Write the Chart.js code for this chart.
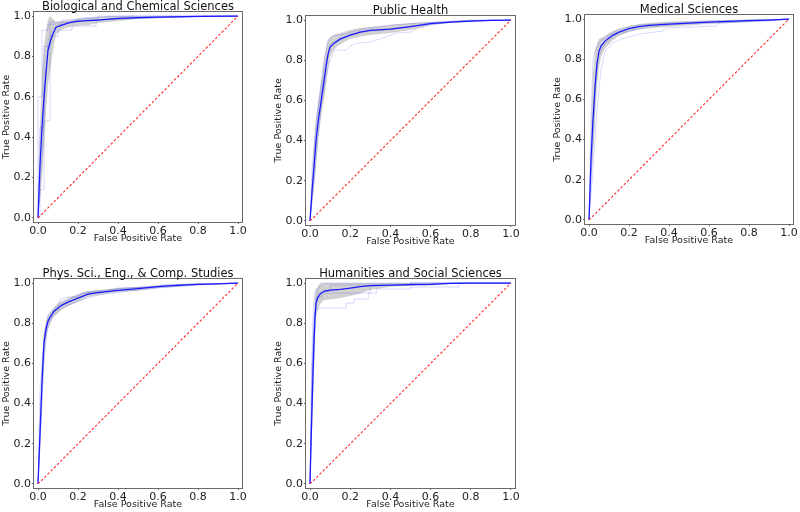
<!DOCTYPE html>
<html><head><meta charset="utf-8">
<script src="https://cdn.jsdelivr.net/npm/chart.js@4.4.1/dist/chart.umd.min.js"></script>
<style>
html,body{margin:0;padding:0;background:#fff;width:800px;height:512px;overflow:hidden;position:relative}
canvas{position:absolute}
</style></head><body>
<canvas id="c1"></canvas><canvas id="c2"></canvas><canvas id="c3"></canvas><canvas id="c4"></canvas><canvas id="c5"></canvas>
<script>
// ---------- data ----------
const tickValues = [0.0, 0.2, 0.4, 0.6, 0.8, 1.0];
const panelTitles = ["Biological and Chemical Sciences", "Public Health", "Medical Sciences",
                     "Phys. Sci., Eng., & Comp. Studies", "Humanities and Social Sciences"];
const xLabel = "False Positive Rate";
const yLabel = "True Positive Rate";
const chanceX = [0, 1];
const chanceY = [0, 1];

// Biological and Chemical Sciences
const fpr1   = [0, 0.01, 0.02, 0.03, 0.04, 0.05, 0.06, 0.07, 0.09, 0.12, 0.15, 0.19, 0.25, 0.3, 0.4, 0.5, 0.6, 0.8, 1.0];
const mean1  = [0, 0.26, 0.45, 0.60, 0.72, 0.83, 0.87, 0.90, 0.945, 0.955, 0.965, 0.973, 0.977, 0.98, 0.988, 0.992, 0.995, 0.998, 1.0];
const upper1 = [0, 0.45, 0.72, 0.85, 0.93, 0.98, 1.0, 0.99, 0.97, 0.975, 0.978, 0.985, 0.99, 0.995, 1.0, 1.0, 1.0, 1.0, 1.0];
const lower1 = [0, 0.08, 0.2, 0.36, 0.52, 0.66, 0.72, 0.8, 0.91, 0.935, 0.945, 0.952, 0.955, 0.965, 0.976, 0.985, 0.99, 0.996, 1.0];
const folds1 = [
  [[0,0],[0.01,0],[0.01,0.14],[0.03,0.14],[0.03,0.48],[0.06,0.48],[0.06,0.85],[0.07,0.9],[0.1,0.9],[0.1,0.93],[0.17,0.93],[0.17,0.95],[0.29,0.95],[0.29,0.98],[0.5,0.99],[1,1]],
  [[0,0],[0,0.6],[0.02,0.6],[0.02,0.93],[0.05,0.93],[0.05,0.96],[0.12,0.96],[0.12,0.98],[0.3,0.99],[0.3,1],[1,1]],
  [[0,0],[0.01,0.45],[0.03,0.45],[0.03,0.85],[0.06,0.85],[0.06,0.97],[0.2,0.97],[0.2,0.99],[0.4,1],[1,1]],
  [[0,0],[0.02,0.3],[0.04,0.7],[0.05,0.88],[0.08,0.94],[0.15,0.97],[0.25,0.98],[0.87,1],[1,1]]
];

// Public Health
const fpr2   = [0, 0.01, 0.02, 0.03, 0.04, 0.05, 0.06, 0.07, 0.08, 0.09, 0.10, 0.12, 0.15, 0.2, 0.25, 0.3, 0.4, 0.5, 0.6, 0.7, 0.8, 0.9, 1.0];
const mean2  = [0, 0.15, 0.27, 0.4, 0.49, 0.56, 0.63, 0.7, 0.77, 0.83, 0.865, 0.885, 0.905, 0.925, 0.94, 0.948, 0.955, 0.967, 0.982, 0.99, 0.995, 0.998, 1.0];
const upper2 = [0, 0.22, 0.38, 0.5, 0.58, 0.65, 0.72, 0.8, 0.86, 0.9, 0.915, 0.925, 0.935, 0.95, 0.96, 0.965, 0.975, 0.985, 0.99, 0.995, 1.0, 1.0, 1.0];
const lower2 = [0, 0.08, 0.16, 0.28, 0.4, 0.48, 0.55, 0.61, 0.68, 0.76, 0.82, 0.855, 0.88, 0.905, 0.918, 0.925, 0.935, 0.95, 0.975, 0.985, 0.99, 0.996, 1.0];
const folds2 = [
  [[0,0],[0.02,0.2],[0.04,0.42],[0.06,0.6],[0.08,0.72],[0.1,0.8],[0.12,0.85],[0.18,0.85],[0.2,0.87],[0.23,0.885],[0.3,0.89],[0.36,0.91],[0.43,0.935],[0.5,0.94],[0.55,0.965],[0.65,0.985],[0.8,0.995],[1,1]],
  [[0,0],[0.01,0.25],[0.03,0.5],[0.05,0.65],[0.07,0.8],[0.09,0.9],[0.12,0.925],[0.18,0.93],[0.22,0.945],[0.3,0.96],[0.4,0.975],[0.55,0.985],[0.65,0.99],[0.8,1],[1,1]],
  [[0,0],[0.02,0.3],[0.04,0.55],[0.06,0.68],[0.08,0.8],[0.1,0.88],[0.15,0.91],[0.25,0.94],[0.35,0.95],[0.45,0.96],[0.6,0.985],[0.8,0.998],[1,1]]
];

// Medical Sciences
const fpr3   = [0, 0.01, 0.02, 0.03, 0.04, 0.05, 0.06, 0.08, 0.1, 0.12, 0.15, 0.2, 0.25, 0.3, 0.4, 0.5, 0.6, 0.7, 0.8, 0.9, 1.0];
const mean3  = [0, 0.3, 0.5, 0.66, 0.78, 0.84, 0.865, 0.89, 0.905, 0.92, 0.935, 0.952, 0.962, 0.968, 0.975, 0.98, 0.985, 0.988, 0.992, 0.995, 1.0];
const upper3 = [0, 0.45, 0.72, 0.84, 0.88, 0.9, 0.905, 0.915, 0.93, 0.94, 0.95, 0.965, 0.975, 0.98, 0.988, 0.99, 0.993, 0.995, 0.997, 0.999, 1.0];
const lower3 = [0, 0.18, 0.32, 0.5, 0.66, 0.76, 0.81, 0.855, 0.875, 0.895, 0.915, 0.935, 0.948, 0.955, 0.962, 0.968, 0.975, 0.98, 0.987, 0.992, 1.0];
const folds3 = [
  [[0,0],[0.02,0.25],[0.04,0.55],[0.06,0.75],[0.08,0.84],[0.12,0.88],[0.16,0.9],[0.25,0.925],[0.37,0.94],[0.38,0.955],[0.5,0.96],[0.64,0.965],[0.65,0.98],[0.9,0.99],[1,1]],
  [[0,0],[0.01,0.5],[0.02,0.8],[0.03,0.84],[0.05,0.88],[0.07,0.9],[0.1,0.92],[0.15,0.95],[0.25,0.97],[0.4,0.98],[0.6,0.99],[0.8,0.995],[1,1]],
  [[0,0],[0.02,0.4],[0.035,0.7],[0.05,0.82],[0.08,0.88],[0.13,0.92],[0.2,0.94],[0.3,0.96],[0.45,0.975],[0.7,0.985],[1,1]]
];

// Phys. Sci., Eng., & Comp. Studies
const fpr4   = [0, 0.01, 0.02, 0.03, 0.04, 0.05, 0.06, 0.08, 0.1, 0.12, 0.15, 0.2, 0.25, 0.3, 0.4, 0.5, 0.6, 0.7, 0.8, 0.9, 1.0];
const mean4  = [0, 0.25, 0.5, 0.7, 0.77, 0.81, 0.83, 0.86, 0.875, 0.89, 0.905, 0.925, 0.945, 0.952, 0.963, 0.972, 0.982, 0.988, 0.993, 0.996, 1.0];
const upper4 = [0, 0.35, 0.6, 0.76, 0.81, 0.84, 0.855, 0.88, 0.9, 0.91, 0.925, 0.945, 0.96, 0.965, 0.975, 0.982, 0.99, 0.995, 0.997, 0.998, 1.0];
const lower4 = [0, 0.15, 0.4, 0.62, 0.72, 0.77, 0.8, 0.835, 0.85, 0.87, 0.885, 0.905, 0.93, 0.94, 0.955, 0.962, 0.975, 0.982, 0.99, 0.995, 1.0];
const folds4 = [
  [[0,0],[0.01,0.45],[0.02,0.6],[0.03,0.72],[0.05,0.8],[0.08,0.85],[0.1,0.88],[0.11,0.92],[0.15,0.93],[0.2,0.93],[0.22,0.95],[0.35,0.96],[0.4,0.975],[0.6,0.98],[0.62,0.99],[1,1]],
  [[0,0],[0.015,0.3],[0.03,0.6],[0.045,0.76],[0.07,0.83],[0.1,0.86],[0.15,0.89],[0.2,0.91],[0.3,0.94],[0.45,0.96],[0.6,0.975],[0.8,0.99],[1,1]],
  [[0,0],[0.02,0.55],[0.03,0.74],[0.05,0.84],[0.08,0.87],[0.12,0.9],[0.18,0.93],[0.25,0.955],[0.4,0.97],[0.55,0.98],[0.75,0.995],[1,1]]
];

// Humanities and Social Sciences
const fpr5   = [0, 0.005, 0.01, 0.015, 0.02, 0.025, 0.03, 0.04, 0.05, 0.07, 0.1, 0.15, 0.2, 0.25, 0.3, 0.4, 0.5, 0.6, 0.7, 0.8, 1.0];
const mean5  = [0, 0.2, 0.38, 0.55, 0.7, 0.83, 0.9, 0.93, 0.945, 0.96, 0.965, 0.968, 0.975, 0.982, 0.987, 0.99, 0.992, 0.993, 0.998, 1.0, 1.0];
const upper5 = [0, 0.3, 0.52, 0.7, 0.84, 0.93, 0.97, 0.985, 0.995, 1.0, 1.0, 1.0, 1.0, 1.0, 1.0, 1.0, 1.0, 1.0, 1.0, 1.0, 1.0];
const lower5 = [0, 0.1, 0.25, 0.4, 0.56, 0.72, 0.83, 0.87, 0.895, 0.915, 0.918, 0.925, 0.935, 0.948, 0.965, 0.982, 0.986, 0.988, 0.996, 1.0, 1.0];
const folds5 = [
  [[0,0],[0.01,0.5],[0.02,0.8],[0.03,0.87],[0.05,0.875],[0.18,0.875],[0.18,0.9],[0.22,0.9],[0.22,0.92],[0.29,0.92],[0.29,0.95],[0.33,0.95],[0.33,0.97],[0.5,0.97],[0.5,0.98],[0.74,0.98],[0.74,1],[1,1]],
  [[0,0],[0.01,0.6],[0.02,0.82],[0.03,0.93],[0.06,0.93],[0.06,0.95],[0.3,0.95],[0.3,0.985],[0.5,0.99],[0.5,1],[1,1]],
  [[0,0],[0.005,0.4],[0.015,0.85],[0.025,0.96],[0.05,0.98],[0.05,1],[1,1]],
  [[0,0],[0.01,0.45],[0.025,0.85],[0.035,0.95],[0.1,0.96],[0.1,0.99],[0.5,0.99],[0.5,1],[1,1]]
];

// ---------- layout / style ----------
const FAMILY = "'DejaVu Sans', sans-serif";
const YW = 33, XH = 22, PAD_R = 14;
const panels = [
  {id:'c1', left:34,  top:12,  w:208, h:210, padTop:12, fpr:fpr1, mean:mean1, upper:upper1, lower:lower1, folds:folds1, title:panelTitles[0]},
  {id:'c2', left:306, top:16,  w:209, h:209, padTop:16, fpr:fpr2, mean:mean2, upper:upper2, lower:lower2, folds:folds2, title:panelTitles[1]},
  {id:'c3', left:585, top:15,  w:208, h:209, padTop:15, fpr:fpr3, mean:mean3, upper:upper3, lower:lower3, folds:folds3, title:panelTitles[2]},
  {id:'c4', left:34,  top:279, w:208, h:209, padTop:20, fpr:fpr4, mean:mean4, upper:upper4, lower:lower4, folds:folds4, title:panelTitles[3]},
  {id:'c5', left:306, top:279, w:209, h:209, padTop:20, fpr:fpr5, mean:mean5, upper:upper5, lower:lower5, folds:folds5, title:panelTitles[4]}
];

const titlePlugin = {
  id: 'panelTitle',
  afterDraw(chart, args, opts) {
    const {ctx, chartArea: a} = chart;
    ctx.save();
    ctx.font = "11.5px " + FAMILY;
    ctx.fillStyle = '#111';
    ctx.textAlign = 'center';
    ctx.textBaseline = 'alphabetic';
    ctx.fillText(opts.text, (a.left + a.right) / 2, a.top - 2.5);
    ctx.restore();
  }
};
const framePlugin = {
  id: 'frame',
  afterDatasetsDraw(chart) {
    const {ctx, chartArea: a} = chart;
    ctx.save();
    ctx.strokeStyle = '#6a6a6a';
    ctx.lineWidth = 1;
    ctx.strokeRect(Math.round(a.left) - 0.5, Math.round(a.top) - 0.5,
                   Math.round(a.right - a.left) + 1, Math.round(a.bottom - a.top) + 1);
    ctx.restore();
  }
};

function pts(xs, ys) { return xs.map((x, i) => ({x: x, y: ys[i]})); }

function axis(label, isX) {
  const o = {
    type: 'linear', min: -0.02, max: 1.02,
    afterBuildTicks: s => { s.ticks = tickValues.map(v => ({value: v})); },
    ticks: { callback: v => Number(v).toFixed(1), font: {family: FAMILY, size: 11}, color: '#222',
             padding: 1, maxRotation: 0, autoSkip: false },
    grid: { drawOnChartArea: false, drawTicks: true, tickLength: 2, color: '#6a6a6a' },
    border: { display: false },
    title: { display: true, text: label, font: {family: FAMILY, size: 9.5}, color: '#222', padding: 0 }
  };
  if (isX) o.afterFit = s => { s.height = XH; };
  else o.afterFit = s => { s.width = YW; };
  return o;
}

panels.forEach(p => {
  const cv = document.getElementById(p.id);
  const W = YW + p.w + PAD_R, H = p.padTop + p.h + XH;
  cv.width = W; cv.height = H;
  cv.style.width = W + 'px'; cv.style.height = H + 'px';
  cv.style.left = (p.left - YW) + 'px';
  cv.style.top = (p.top - p.padTop) + 'px';

  const datasets = [
    { data: pts(p.fpr, p.lower), borderWidth: 0, borderColor: 'rgba(0,0,0,0)', pointRadius: 0, fill: false, order: 10 },
    { data: pts(p.fpr, p.upper), borderWidth: 0, borderColor: 'rgba(0,0,0,0)', pointRadius: 0,
      fill: '-1', backgroundColor: 'rgba(128,128,128,0.36)', order: 9 }
  ];
  p.folds.forEach(f => datasets.push({
    data: f.map(q => ({x: q[0], y: q[1]})), borderColor: 'rgba(0,0,255,0.16)', borderWidth: 1,
    pointRadius: 0, fill: false, order: 5
  }));
  datasets.push({ data: pts(p.fpr, p.mean), borderColor: 'rgb(25,25,255)', borderWidth: 1.25,
    pointRadius: 0, fill: false, order: 1 });
  datasets.push({ data: pts(chanceX, chanceY), borderColor: 'rgb(255,40,40)', borderWidth: 1.1,
    borderDash: [2.5, 2], pointRadius: 0, fill: false, order: 0 });

  new Chart(cv, {
    type: 'line',
    data: { datasets },
    options: {
      responsive: false, animation: false, devicePixelRatio: 1,
      layout: { padding: { top: p.padTop, right: PAD_R, left: 0, bottom: 0 } },
      elements: { line: { tension: 0 } },
      plugins: { legend: { display: false }, tooltip: { enabled: false }, panelTitle: { text: p.title } },
      scales: { x: axis(xLabel, true), y: axis(yLabel, false) }
    },
    plugins: [titlePlugin, framePlugin]
  });
});
</script>
</body></html>
